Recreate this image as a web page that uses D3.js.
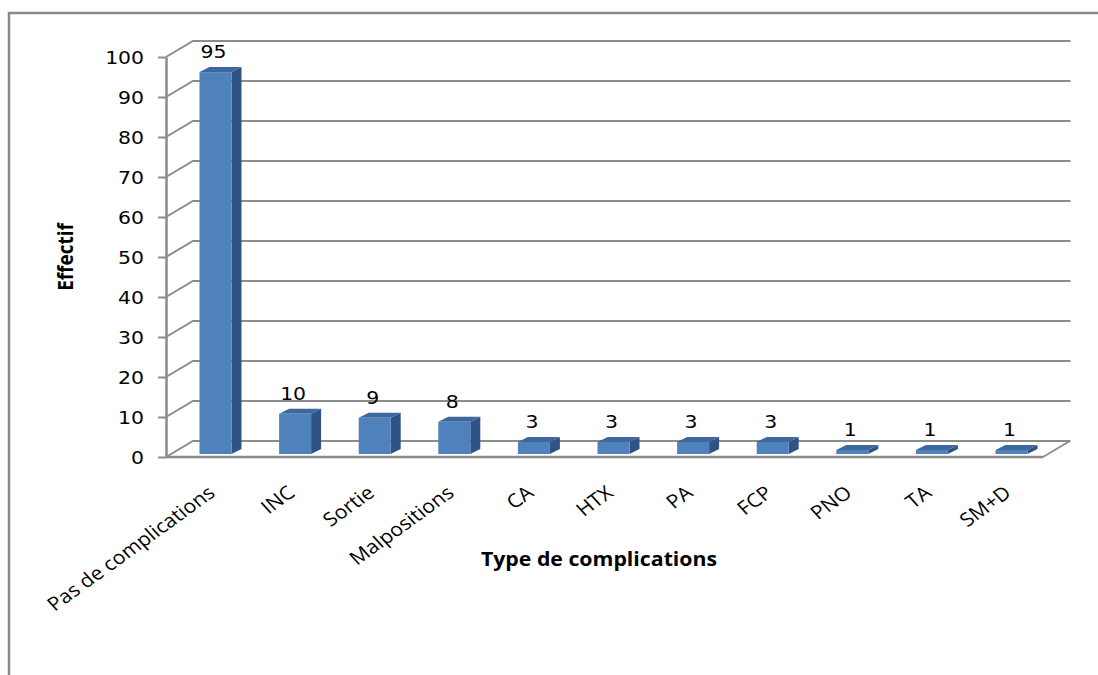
<!DOCTYPE html>
<html>
<head>
<meta charset="utf-8">
<script src="https://cdn.jsdelivr.net/npm/d3@7"></script>
<style>
  html, body { margin: 0; padding: 0; background: #fff; }
  svg { display: block; }
</style>
</head>
<body>
<svg id="chart" width="1098" height="675"></svg>
<script>
// Complications observed, by type (counts)
const categories = ["Pas de complications", "INC", "Sortie", "Malpositions", "CA", "HTX", "PA", "FCP", "PNO", "TA", "SM+D"];
const counts = [95, 10, 9, 8, 3, 3, 3, 3, 1, 1, 1];
const yTicks = [0, 10, 20, 30, 40, 50, 60, 70, 80, 90, 100];
const yTitle = "Effectif";
const xTitle = "Type de complications";

const svg = d3.select("#chart");

// chart frame (top and left edges)
svg.append("path")
  .attr("d", "M9,675 L9,13 L1098,13")
  .attr("fill", "none").attr("stroke", "#8a8a8a").attr("stroke-width", 2.5);

// front plane of the plot box and oblique depth of the walls
const x0 = 166, x1 = 1043;
const depth = { dx: 27, dy: -16 };
const yFront = d3.scaleLinear().domain([0, 100]).range([457, 57]);

// bars sit slightly inside the box
const yBar = d3.scaleLinear().domain([0, 100]).range([454, 52]);
const xBar = d3.scalePoint().domain(categories).range([175.7, 1051.3]).padding(0.5);
const barW = 32;
const bar3d = { dx: 10, dy: -5 };

const grid = svg.append("g").attr("stroke", "#8c8c8c").attr("stroke-width", 2).attr("fill", "none");

// back-wall gridlines with their side-wall connectors
yTicks.forEach(v => {
  const yf = yFront(v);
  grid.append("path")
    .attr("d", `M${x0},${yf} L${x0 + depth.dx},${yf + depth.dy} L${x1 + depth.dx + 0.5},${yf + depth.dy}`);
});

// floor: right edge
grid.append("path")
  .attr("d", `M${x1},${yFront(0)} L${x1 + depth.dx},${yFront(0) + depth.dy}`);

// floor front edge (category axis line)
svg.append("line")
  .attr("x1", x0).attr("x2", x1)
  .attr("y1", yFront(0)).attr("y2", yFront(0))
  .attr("stroke", "#8a8a8a").attr("stroke-width", 2.5);

// value axis
const yAxisG = svg.append("g")
  .attr("transform", `translate(${x0},0)`)
  .call(d3.axisLeft(yFront).tickValues(yTicks).tickSize(8).tickSizeOuter(0));
yAxisG.select(".domain").attr("stroke", "#8a8a8a").attr("stroke-width", 2.5);
yAxisG.selectAll(".tick line").attr("stroke", "#8a8a8a").attr("stroke-width", 2);
yAxisG.selectAll(".tick text")
  .attr("x", -18.3)
  .attr("dy", 6.5)
  .attr("transform", "scale(1.2,1)")
  .attr("font-family", "DejaVu Sans, Verdana, sans-serif")
  .attr("font-size", 17)
  .attr("fill", "#000")
  .attr("text-anchor", "end");

// 3D columns
const bars = svg.append("g").selectAll("g.bar")
  .data(categories.map((c, i) => ({ cat: c, value: counts[i] })))
  .join("g").attr("class", "bar");

bars.each(function (d) {
  const g = d3.select(this);
  const xl = xBar(d.cat) - barW / 2, xr = xl + barW;
  const yt = yBar(d.value), yb = yBar(0);
  // side face
  g.append("path")
    .attr("d", `M${xr},${yt} L${xr + bar3d.dx},${yt + bar3d.dy} L${xr + bar3d.dx},${yb + bar3d.dy} L${xr},${yb} Z`)
    .attr("fill", "#2f5385");
  // top face
  g.append("path")
    .attr("d", `M${xl},${yt} L${xl + bar3d.dx},${yt + bar3d.dy} L${xr + bar3d.dx},${yt + bar3d.dy} L${xr},${yt} Z`)
    .attr("fill", "#3d689c");
  // front face
  g.append("rect")
    .attr("x", xl).attr("y", yt)
    .attr("width", barW).attr("height", yb - yt)
    .attr("fill", "#4f81bd");
});

// value labels
svg.append("g").selectAll("text")
  .data(categories.map((c, i) => ({ cat: c, value: counts[i] })))
  .join("text")
  .attr("transform", d => `translate(${xBar(d.cat) - 2},${yBar(d.value) - 14}) scale(1.2,1)`)
  .attr("text-anchor", "middle")
  .attr("font-family", "DejaVu Sans, Verdana, sans-serif")
  .attr("font-size", 17)
  .attr("fill", "#000")
  .text(d => d.value);

// category labels, slanted (slightly widened type)
svg.append("g").selectAll("text")
  .data(categories)
  .join("text")
  .attr("transform", d => `translate(${xBar(d) + 1},495) scale(1.12,1) rotate(-39)`)
  .attr("text-anchor", "end")
  .attr("font-family", "Open Sans, sans-serif")
  .attr("font-size", 19)
  .attr("fill", "#000")
  .text(d => d);

// axis titles
svg.append("text")
  .attr("transform", "translate(73,257) scale(1.12,1) rotate(-90)")
  .attr("text-anchor", "middle")
  .attr("font-family", "Open Sans, sans-serif")
  .attr("font-weight", "bold")
  .attr("font-size", 19)
  .attr("fill", "#000")
  .text(yTitle);

svg.append("text")
  .attr("transform", "translate(599,566) scale(1.12,1)")
  .attr("text-anchor", "middle")
  .attr("font-family", "Open Sans, sans-serif")
  .attr("font-weight", "bold")
  .attr("font-size", 19)
  .attr("fill", "#000")
  .text(xTitle);
</script>
</body>
</html>
